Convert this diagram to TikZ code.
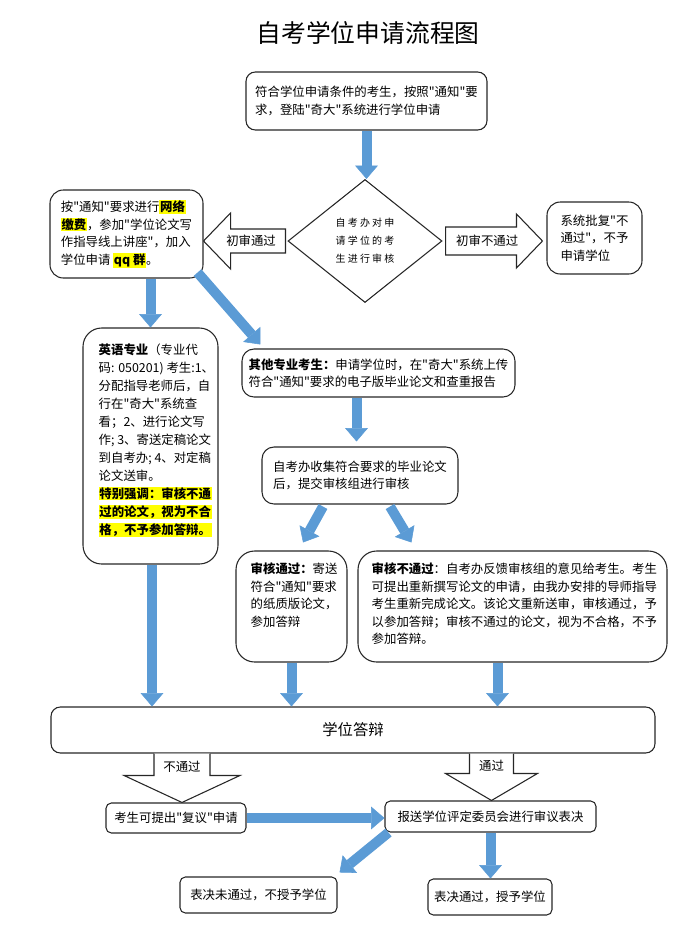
\documentclass[tikz,border=0pt]{standalone}
\usepackage{fontspec}
\newfontfamily\cjk{Noto Sans CJK SC}
\usetikzlibrary{arrows.meta,shapes.geometric,calc}
\definecolor{flowblue}{HTML}{5B9BD5}
\definecolor{hlyellow}{HTML}{FFFF00}
\newcommand{\hlt}[1]{{\setlength{\fboxsep}{0.5pt}\colorbox{hlyellow}{\bfseries #1}}}

\begin{document}
\begin{tikzpicture}[x=0.75pt,y=-0.75pt,
  box/.style={draw=black!85,rounded corners=7pt,line width=0.8pt,inner sep=0pt,align=left,font=\cjk\fontsize{9.3pt}{13.2pt}\selectfont},
  txt/.style={inner sep=0pt,align=left,font=\cjk\fontsize{9.3pt}{13.2pt}\selectfont},
  hollow/.style={draw=black!85,fill=white,line width=0.8pt},
  flow/.style={-{Triangle[length=10pt,width=17pt,line width=0.4pt]},line width=7.5pt,flowblue}
]
\useasboundingbox (0,0) rectangle (684,932);

\node[font=\cjk\fontsize{18.6pt}{20pt}\selectfont] (title) at (368,33) {自考学位申请流程图};

% application and first check
\node[box,minimum width=180.75pt,minimum height=43.5pt] (apply) at (366.5,101) {符合学位申请条件的考生，按照"通知"要\\求，登陆"奇大"系统进行学位申请};
\node[draw=black!85,diamond,line width=0.8pt,inner sep=0pt,minimum width=115.5pt,minimum height=92.25pt,align=left,font=\cjk\fontsize{7.5pt}{13.5pt}\selectfont\addfontfeature{LetterSpace=22}] (chk) at (365,241) {自考办对申\\请学位的考\\生进行审核};
\node[box,rounded corners=10pt,minimum width=114.75pt,minimum height=66pt] (passl) at (126.5,234) {按"通知"要求进行\hlt{网络}\\\hlt{缴费}，参加"学位论文写\\作指导线上讲座"，加入\\学位申请 \hlt{qq 群}。};
\node[box,rounded corners=10pt,minimum width=71.25pt,minimum height=54pt] (rej) at (594.5,238) {系统批复"不\\通过"，不予\\申请学位};

\coordinate (lt) at ($(chk.west)+(-2,0)$);
\coordinate (lh) at (passl.east |- chk.west);
\draw[hollow] ($(lt)+(0,-12)$) -- ($(lh)+(27,-12)$) -- ($(lh)+(27,-28)$) -- (lh) -- ($(lh)+(27,28)$) -- ($(lh)+(27,12)$) -- ($(lt)+(0,12)$) -- cycle;
\node[txt] (lpass) at ($(lh)!0.58!(lt)$) {初审通过};
\coordinate (rt) at ($(chk.east)+(3,0)$);
\coordinate (rh) at ($(rej.west |- chk.east)+(-4,0)$);
\draw[hollow] ($(rt)+(0,-14)$) -- ($(rh)+(-26,-14)$) -- ($(rh)+(-26,-27)$) -- (rh) -- ($(rh)+(-26,27)$) -- ($(rh)+(-26,14)$) -- ($(rt)+(0,14)$) -- cycle;
\node[txt] (lfail) at ($(rt)!0.43!(rh)$) {初审不通过};

% thesis routes
\node[box,rounded corners=14pt,minimum width=101.25pt,minimum height=177pt] (eng) at (150.5,446) {};
\node[txt,anchor=north west,font=\cjk\fontsize{9.3pt}{13.5pt}\selectfont] (engtxt) at ($(eng.north west)+(16,16)$) {\textbf{英语专业}（专业代\\码: 050201) 考生:1、\\分配指导老师后，自\\行在"奇大"系统查\\看；2、进行论文写\\作; 3、寄送定稿论文\\到自考办; 4、对定稿\\论文送审。\\\hlt{特别强调：审核不通}\\\hlt{过的论文，视为不合}\\\hlt{格，不予参加答辩。}};
\node[box,rounded corners=9pt,minimum width=204.75pt,minimum height=36pt] (other) at (378.5,373) {\textbf{其他专业考生：}申请学位时，在"奇大"系统上传\\符合"通知"要求的电子版毕业论文和查重报告};
\node[box,rounded corners=9pt,minimum width=147pt,minimum height=42.75pt] (collect) at (360,475.5) {自考办收集符合要求的毕业论文\\后，提交审核组进行审核};
\node[box,rounded corners=14pt,minimum width=83.25pt,minimum height=83.25pt] (passb) at (291.5,606.5) {};
\node[txt,anchor=north west] (passtxt) at ($(passb.north west)+(15,12)$) {\textbf{审核通过：}寄送\\符合"通知"要求\\的纸质版论文，\\参加答辩};
\node[box,rounded corners=14pt,minimum width=231.75pt,minimum height=83.25pt] (failb) at (512.5,606.5) {};
\node[txt,anchor=north west] (failtxt) at ($(failb.north west)+(14,12)$) {\textbf{审核不通过}：自考办反馈审核组的意见给考生。考生\\可提出重新撰写论文的申请，由我办安排的导师指导\\考生重新完成论文。该论文重新送审，审核通过，予\\以参加答辩；审核不通过的论文，视为不合格，不予\\参加答辩。};

% defense and decision
\node[box,minimum width=453pt,minimum height=34.5pt,font=\cjk\fontsize{11.5pt}{13pt}\selectfont] (defense) at (353,730) {学位答辩};
\node[box,rounded corners=4pt,minimum width=105pt,minimum height=22.5pt] (revw) at (176,818) {考生可提出"复议"申请};
\node[box,rounded corners=4pt,minimum width=158.25pt,minimum height=23.25pt] (comm) at (490.5,816.5) {报送学位评定委员会进行审议表决};
\node[box,rounded corners=4pt,minimum width=117.75pt,minimum height=27pt] (nogr) at (258.5,895) {表决未通过，不授予学位};
\node[box,rounded corners=4pt,minimum width=93pt,minimum height=27pt] (gr) at (490,897) {表决通过，授予学位};

\coordinate (bl) at ($(revw.north)+(6,0)$);
\coordinate (blt) at (bl |- defense.south);
\draw[hollow] ($(blt)+(-28,0)$) -- ($(bl)+(-28,-27)$) -- ($(bl)+(-58,-27)$) -- (bl) -- ($(bl)+(58,-27)$) -- ($(bl)+(28,-27)$) -- ($(blt)+(28,0)$);
\node[txt] (dfail) at ($(blt)!0.27!(bl)$) {不通过};
\coordinate (br) at ($(comm.north)+(1,0)$);
\coordinate (brt) at (br |- defense.south);
\draw[hollow] ($(brt)+(-22,0)$) -- ($(br)+(-22,-27)$) -- ($(br)+(-46,-27)$) -- (br) -- ($(br)+(46,-27)$) -- ($(br)+(22,-27)$) -- ($(brt)+(22,0)$);
\node[txt] (dpass) at ($(brt)!0.27!(br)$) {通过};

% blue flow arrows
\coordinate (f1) at ($(passl.south)+(24,0)$);
\coordinate (f2) at ($(eng.south)+(1.5,0)$);
\coordinate (f3) at ($(other.south)+(-22,0)$);
\coordinate (f4) at ($(failb.south)+(-15,0)$);
\draw[flow] (apply.south) -- (apply.south |- chk.north);
\draw[flow] (f1) -- (f1 |- eng.north);
\draw[flow] ($(passl.south east)+(-6,-6)$) -- ($(other.north west)+(19,-4)$);
\draw[flow] (f2) -- (f2 |- defense.north);
\draw[flow] (f3) -- ($(f3 |- collect.north)+(0,-5)$);
\draw[flow] ($(collect.south)+(-37,2)$) -- ($(passb.north)+(11.5,-8)$);
\draw[flow] ($(collect.south)+(30,2)$) -- ($(failb.north west)+(54,-8)$);
\draw[flow] (passb.south) -- (passb.south |- defense.north);
\draw[flow] (f4) -- (f4 |- defense.north);
\draw[flow] (revw.east) -- (revw.east -| comm.west);
\draw[flow] ($(comm.south west)+(4,0)$) -- ($(nogr.north east)+(2,-4)$);
\draw[flow] (comm.south) -- (comm.south |- gr.north);
\end{tikzpicture}
\end{document}
